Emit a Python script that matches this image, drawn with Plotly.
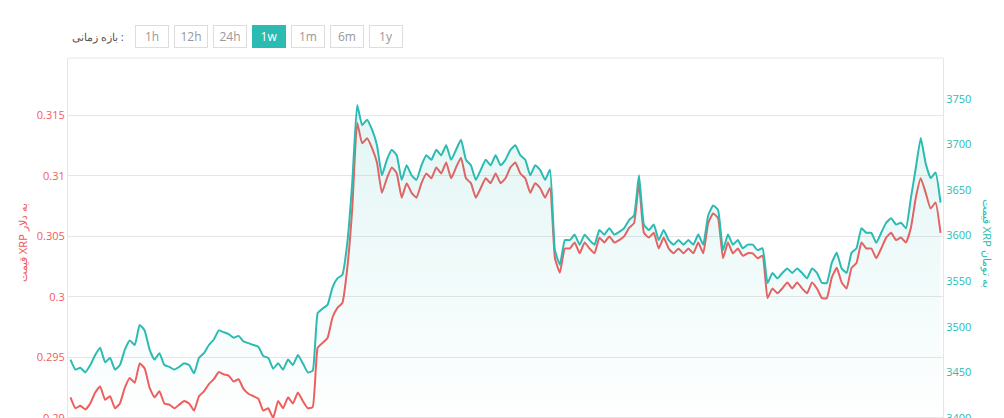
import plotly.graph_objects as go

usd = [.2917,.2908,.2910,.2907,.2912,.2921,.2926,.2915,.2918,.2908,.2912,.2925,.2933,.2929,.2945,.2941,.2925,.2917,.2922,.2912,.2911,.2908,.2911,.2914,.2912,.2906,.2918,.2922,.2928,.2932,.2938,.2936,.2935,.2930,.2932,.2924,.2920,.2918,.2916,.2906,.2908,.2900,.2914,.2908,.2917,.2912,.2921,.2914,.2908,.2909,
       .2958,.2962,.2966,.2983,.2991,.2995,.3024,.3073,
       .3144,.3127,.3131,.3123,.3111,.3086,.3098,.3107,.3102,.3082,.3094,.3086,.3082,.3094,.3102,.3098,.3107,.3102,.3111,.3098,.3107,.3115,.3098,.3094,.3082,.3090,.3098,.3094,.3102,.3094,.3098,.3107,.3111,.3102,.3098,.3086,.3094,.3090,.3082,.3090,
       .3032,.3020,.3040,.3040,.3045,.3036,.3045,.3040,.3036,.3049,.3045,.3050,.3045,.3047,.3050,.3057,.3061,.3094,.3053,.3049,.3053,.3040,.3049,.3040,.3036,.3040,.3036,.3040,.3036,.3045,.3036,.3061,.3069,.3065,.3032,.3045,.3036,.3040,.3034,.3036,.3036,.3032,.3034,
       .2999,.3007,.3003,.3007,.3012,.3007,.3012,.3007,.3003,.3012,.3007,.2999,.2999,.3016,.3024,.3012,.3007,.3024,.3028,.3045,.3040,.3040,.3032,.3040,.3049,.3053,.3047,.3049,.3045,.3057,.3082,.3098,.3086,.3073,.3078,.3053]

toman = [3464,3453,3455,3450,3458,3469,3477,3461,3466,3453,3458,3475,3485,3480,3502,3496,3475,3464,3471,3458,3456,3453,3456,3460,3458,3449,3466,3471,3480,3486,3496,3494,3492,3488,3490,3484,3482,3480,3478,3468,3466,3454,3460,3453,3464,3458,3469,3460,3450,3452,
         3515,3520,3524,3543,3553,3557,3592,3658,
         3743,3721,3727,3716,3699,3666,3683,3694,3688,3661,3677,3666,3661,3677,3688,3683,3694,3688,3699,3683,3694,3705,3683,3677,3661,3672,3683,3677,3688,3677,3683,3694,3699,3688,3683,3666,3677,3672,3661,3672,
         3584,3568,3595,3595,3601,3590,3601,3595,3590,3606,3601,3608,3601,3604,3608,3617,3622,3666,3612,3606,3612,3595,3606,3595,3590,3595,3590,3595,3590,3601,3590,3622,3633,3628,3584,3601,3590,3595,3586,3590,3590,3584,3586,
         3548,3559,3553,3559,3564,3559,3564,3559,3553,3564,3559,3548,3548,3570,3581,3564,3559,3581,3586,3608,3603,3603,3592,3603,3614,3619,3612,3614,3608,3641,3674,3707,3679,3663,3669,3636]

idx = list(range(len(usd)))
usd_ticks = [0.29, 0.295, 0.3, 0.305, 0.31, 0.315]
toman_ticks = [3400, 3450, 3500, 3550, 3600, 3650, 3700, 3750]
periods = ["1h", "12h", "24h", "1w", "1m", "6m", "1y"]
period_px = [144, 183, 222, 261, 300, 339, 378]

RED = "#f25c5c"
TEAL = "#2bbbb2"

fig = go.Figure()
fig.add_trace(go.Scatter(x=idx, y=toman, yaxis="y2", mode="lines",
                         line=dict(color=TEAL, width=2, shape="spline", smoothing=0.4),
                         fill="tozeroy",
                         fillgradient=dict(type="vertical", start=3394, stop=3745,
                                           colorscale=[[0, "rgba(43,187,178,0)"], [1, "rgba(43,187,178,0.14)"]]),
                         hoverinfo="skip"))
fig.add_trace(go.Scatter(x=idx, y=usd, mode="lines",
                         line=dict(color=RED, width=2, shape="spline", smoothing=0.4),
                         hoverinfo="skip"))

W, H = 1004, 418
L, R, T, B = 60, 69, 50, 6
pw, ph = W - L - R, H - T - B

def px(x): return (x - L) / pw
def py(y): return (H - B - y) / ph

ann = []
for p, x in zip(periods, period_px):
    sel = p == "1w"
    ann.append(dict(x=px(x), y=py(29), xref="paper", yref="paper", text=p, showarrow=False,
                    font=dict(family="Open Sans", size=12, color="white" if sel else "#999"),
                    bgcolor=TEAL if sel else "white", bordercolor=TEAL if sel else "#ddd",
                    borderwidth=1, borderpad=2, width=28, xanchor="center", yanchor="middle"))
ann.append(dict(x=px(118), y=py(29), xref="paper", yref="paper", text="بازه زمانی :", showarrow=False,
                font=dict(family="Noto Sans", size=11, color="#555"), xanchor="right", yanchor="middle"))
ann.append(dict(x=px(14), y=py(235), xref="paper", yref="paper", text="قیمت XRP به دلار", showarrow=False,
                textangle=-90, xanchor="center", yanchor="middle",
                font=dict(family="Noto Sans", size=11, color=RED)))
ann.append(dict(x=px(980), y=py(235), xref="paper", yref="paper", text="قیمت XRP به تومان", showarrow=False,
                textangle=90, xanchor="center", yanchor="middle",
                font=dict(family="Noto Sans", size=11, color=TEAL)))

fig.update_layout(
    width=W, height=H, margin=dict(l=L, r=R, t=T, b=B, autoexpand=False),
    paper_bgcolor="white", plot_bgcolor="white", showlegend=False,
    xaxis=dict(visible=False, range=[-0.5, len(usd) - 0.5]),
    yaxis=dict(range=[0.28983, 0.31974], tickvals=usd_ticks, ticktext=[str(v) for v in usd_ticks],
               gridcolor="#e6e6e6", zeroline=False, showline=True, linecolor="#e6e6e6", automargin=False,
               tickfont=dict(family="Open Sans", size=11, color=RED)),
    yaxis2=dict(range=[3397.8, 3794.6], overlaying="y", side="right", tickvals=toman_ticks,
                showgrid=False, zeroline=False, showline=True, linecolor="#e6e6e6", automargin=False,
                tickfont=dict(family="Open Sans", size=11, color=TEAL)),
    annotations=ann,
    shapes=[dict(type="line", xref="paper", yref="paper", x0=0, x1=1, y0=1, y1=1, line=dict(color="#e6e6e6", width=1))],
)
fig.write_html("out.html")
